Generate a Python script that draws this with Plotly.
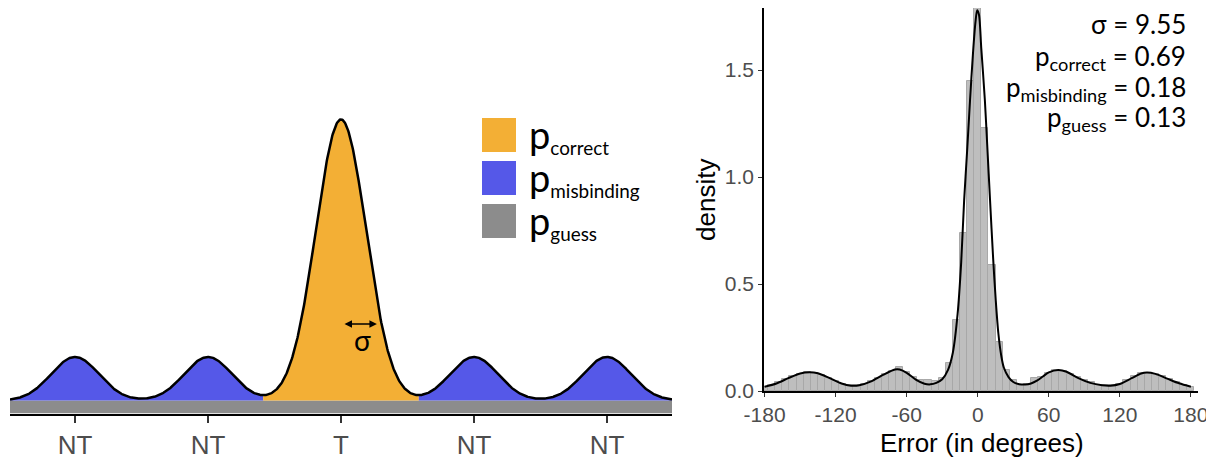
import numpy as np
import plotly.graph_objects as go

# ---------------- Left panel: schematic mixture ----------------
schem_labels = ["NT", "NT", "T", "NT", "NT"]
schem_pos = [-2, -1, 0, 1, 2]
schem_heights = [0.155, 0.155, 1.0, 0.155, 0.155]
schem_widths = [0.18, 0.18, 0.189, 0.18, 0.18]
guess_band = 0.045

legend_p = "p"
legend_subs = ["correct", "misbinding", "guess"]
legend_colors = ["#F3AF35", "#5558E8", "#8C8C8C"]

# ---------------- Right panel: histogram + fitted density ----------------
hist_centers = list(range(-180, 181, 6))
hist_density = [0.02, 0.03, 0.04, 0.055, 0.07, 0.08, 0.088, 0.085, 0.075, 0.06,
                0.045, 0.032, 0.026, 0.027, 0.035, 0.048, 0.062, 0.078, 0.095, 0.11,
                0.09, 0.065, 0.05, 0.05, 0.048, 0.06, 0.13, 0.33, 0.74, 1.45,
                1.79, 1.23, 0.59, 0.23, 0.10, 0.05, 0.03, 0.032, 0.06, 0.065,
                0.085, 0.10, 0.095, 0.08, 0.065, 0.05, 0.04, 0.03, 0.026, 0.027,
                0.035, 0.05, 0.068, 0.082, 0.086, 0.08, 0.07, 0.055, 0.04, 0.03, 0.02]

curve_deg = [-180, -170, -160, -150, -142, -135, -125, -115, -107, -100, -90, -80,
             -70, -66, -60, -52, -45, -40, -35, -30, -25, -21, -17, -14, -11.5, -9,
             -6.5, -4, -2, -0.5, 1, 3, 6, 8, 10.4, 13, 15.2, 17.4, 20, 22, 26, 30,
             35, 40, 45, 50, 55, 60, 68, 75, 85, 95, 105, 112, 120, 130, 138, 143,
             150, 160, 170, 180]
curve_density = [0.02, 0.035, 0.06, 0.082, 0.088, 0.083, 0.06, 0.035, 0.025, 0.027, 0.045, 0.075,
                 0.10, 0.10, 0.085, 0.052, 0.034, 0.031, 0.038, 0.055, 0.10, 0.18, 0.36, 0.6, 0.89, 1.12,
                 1.36, 1.58, 1.72, 1.78, 1.76, 1.6, 1.36, 1.15, 0.89, 0.62, 0.425, 0.27, 0.16, 0.11, 0.065, 0.042,
                 0.032, 0.03, 0.035, 0.048, 0.068, 0.087, 0.098, 0.09, 0.06, 0.038, 0.027, 0.025, 0.033, 0.06, 0.082, 0.086,
                 0.08, 0.058, 0.036, 0.02]

fit_names = ["σ", "p<sub>correct</sub>", "p<sub>misbinding</sub>", "p<sub>guess</sub>"]
fit_values = ["9.55", "0.69", "0.18", "0.13"]
err_ticks = [-180, -120, -60, 0, 60, 120, 180]
err_ticktext = ["-180", "-120", "-60", "0", "60", "120", "180"]
dens_ticks = [0, 0.5, 1.0, 1.5]
dens_ticktext = ["0.0", "0.5", "1.0", "1.5"]

# the page body has an 8px margin; size the figure to fit the 1214x459 window
OFF = 8
W, H = 1214 - OFF, 459 - OFF
def px(x):
    return (x - OFF) / W
def py(y):
    return min(1.0, max(0.0, 1 - (y - OFF) / H))

fig = go.Figure()

# schematic curve from component parameters
xr = 2.489
xs = np.linspace(-xr, xr, 1201)
ys = np.zeros_like(xs)
for c, h, s in zip(schem_pos, schem_heights, schem_widths):
    ys += h * np.exp(-(xs - c) ** 2 / (2 * s ** 2))

tgt = schem_labels.index("T")
tc = schem_pos[tgt]
left_mask = (xs > tc - 1) & (xs < tc)
right_mask = (xs > tc) & (xs < tc + 1)
xl = xs[left_mask][np.argmin(ys[left_mask])]
xrr = xs[right_mask][np.argmin(ys[right_mask])]

# guess band
fig.add_trace(go.Scatter(x=[-xr, xr, xr, -xr, -xr], y=[0, 0, -guess_band, -guess_band, 0],
                         fill="toself", fillcolor=legend_colors[2], line=dict(width=0),
                         mode="lines", hoverinfo="skip", xaxis="x", yaxis="y"))
segs = [(xs <= xl, legend_colors[1]), ((xs >= xl) & (xs <= xrr), legend_colors[0]), (xs >= xrr, legend_colors[1])]
for m, col in segs:
    fig.add_trace(go.Scatter(x=xs[m], y=ys[m], fill="tozeroy", fillcolor=col,
                             line=dict(width=0), mode="lines", xaxis="x", yaxis="y"))
fig.add_trace(go.Scatter(x=xs, y=ys, mode="lines", line=dict(color="black", width=2.5),
                         xaxis="x", yaxis="y"))

# right panel
fig.add_trace(go.Bar(x=hist_centers, y=hist_density, width=6,
                     marker=dict(color="#BEBEBE", line=dict(color="#A8A8A8", width=1)),
                     xaxis="x2", yaxis="y2"))
fig.add_trace(go.Scatter(x=curve_deg, y=curve_density, mode="lines",
                         line=dict(color="black", width=2, shape="spline", smoothing=0.8),
                         xaxis="x2", yaxis="y2"))

tickfont_l = dict(family="Liberation Sans, Arial", size=26, color="#4D4D4D")
tickfont_r = dict(family="Liberation Sans, Arial", size=21, color="#4D4D4D")
titlefont = dict(family="Liberation Sans, Arial", size=26, color="black")

fig.update_layout(
    width=W, height=H, margin=dict(l=0, r=0, t=0, b=0, autoexpand=False),
    plot_bgcolor="white", paper_bgcolor="white", showlegend=False, bargap=0,
    xaxis=dict(domain=[px(10), px(672)], range=[-xr, xr], tickvals=schem_pos, ticktext=schem_labels,
               showline=True, linecolor="black", linewidth=2, ticks="outside", ticklen=7,
               tickwidth=2, tickcolor="#333333", tickfont=tickfont_l, showgrid=False, zeroline=False,
               automargin=False),
    yaxis=dict(domain=[py(414), py(100)], range=[-0.048, 1.069], visible=False, automargin=False),
    xaxis2=dict(domain=[px(764), px(1198)], range=[-180.5, 186], tickvals=err_ticks,
                ticktext=err_ticktext,
                showline=True, linecolor="black", linewidth=1.5, ticks="outside", ticklen=4,
                tickwidth=1.2, tickcolor="#333333", tickfont=tickfont_r, showgrid=False, zeroline=False,
                anchor="y2", automargin=False),
    yaxis2=dict(domain=[py(391), py(8)], range=[0, 1.79], tickvals=dens_ticks,
                ticktext=dens_ticktext,
                showline=True, linecolor="black", linewidth=1.5, ticks="outside", ticklen=4,
                tickwidth=1.2, tickcolor="#333333", tickfont=tickfont_r, showgrid=False, zeroline=False,
                anchor="x2", automargin=False),
)

# axis titles of the right panel
fig.add_annotation(xref="paper", yref="paper", x=px(982), y=py(443), text="Error (in degrees)",
                   showarrow=False, xanchor="center", yanchor="middle", font=titlefont)
fig.add_annotation(xref="paper", yref="paper", x=px(706), y=py(200), text="density", textangle=-90,
                   showarrow=False, xanchor="center", yanchor="middle", font=titlefont)

# legend keys for schematic
key_tops = [118, 161, 204]
for top, col, sub in zip(key_tops, legend_colors, legend_subs):
    fig.add_shape(type="rect", xref="paper", yref="paper", x0=px(482), x1=px(516),
                  y0=py(top + 34), y1=py(top), fillcolor=col, line=dict(width=0))
    fig.add_annotation(xref="paper", yref="paper", x=px(527), y=py(top + 17),
                       text=f"<span style='font-size:38px'>{legend_p}</span><sub>{sub}</sub>",
                       showarrow=False, xanchor="left", yanchor="middle",
                       font=dict(family="Lato, Open Sans", size=27, color="black"))

# sigma arrow
fig.add_annotation(x=0.27, y=0.272, ax=0.015, ay=0.272, xref="x", yref="y", axref="x", ayref="y",
                   text="", showarrow=True, arrowhead=2, arrowside="end+start", arrowsize=1,
                   arrowwidth=1.5, arrowcolor="black")
fig.add_annotation(x=0.158, y=0.215, xref="x", yref="y", text="σ", showarrow=False,
                   font=dict(family="Lato, Open Sans", size=28, color="black"))

# fit parameter text
line_y = [24, 57, 88, 118]
for nm, val, yy in zip(fit_names, fit_values, line_y):
    fig.add_annotation(xref="paper", yref="paper", x=px(1188), y=py(yy), text=f"{nm} = {val}",
                       showarrow=False, xanchor="right", yanchor="middle",
                       font=dict(family="Lato, Open Sans", size=26, color="black"))

fig.write_html("out.html")
